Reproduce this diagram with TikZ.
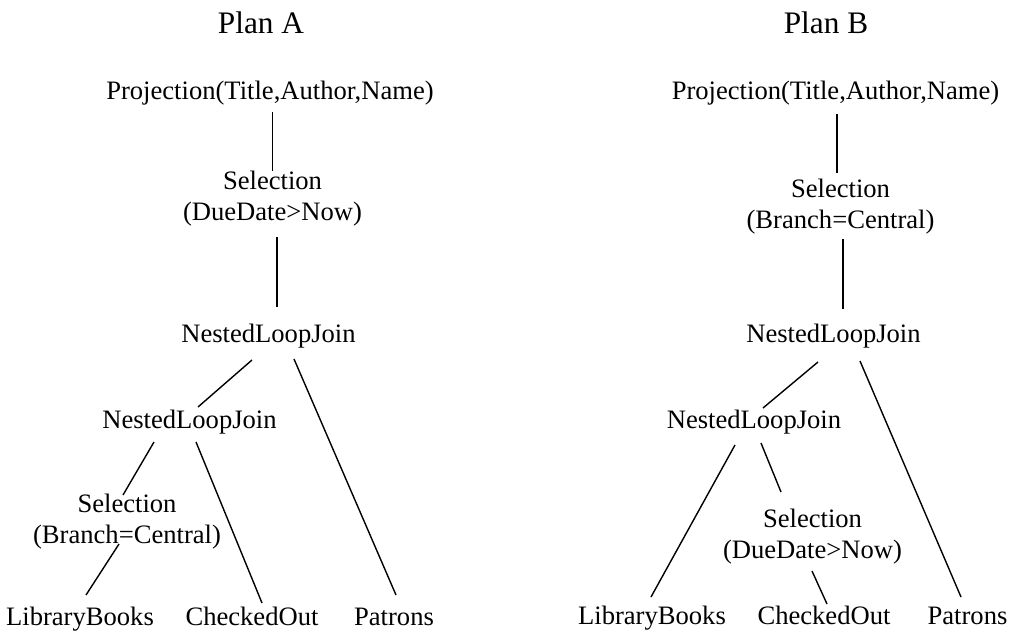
\documentclass[tikz,border=0pt]{standalone}
\usepackage{fontspec}
\setmainfont{Liberation Serif}
\begin{document}
\begin{tikzpicture}[x=1pt,y=-1pt,
  lbl/.style={inner sep=0pt,anchor=base,align=center,font=\fontsize{26.6}{30.5}\selectfont},
  ttl/.style={inner sep=0pt,anchor=base,font=\fontsize{31.3}{37}\selectfont},
  edge/.style={line width=1.4pt,black}]
\useasboundingbox[fill=white] (0,0) rectangle (1010,632);
% Plan A
\node[ttl] (titleA) at (261,33) {Plan A};
\node[lbl] (projA) at (270,99) {Projection(Title,Author,Name)};
\node[lbl] (selA) at (272.5,220) {Selection\\(DueDate>Now)};
\node[lbl] (nljA1) at (268.5,342) {NestedLoopJoin};
\node[lbl] (nljA2) at (189.5,428) {NestedLoopJoin};
\node[lbl] (selA2) at (127,543) {Selection\\(Branch=Central)};
\node[lbl] (lbA) at (80,625) {LibraryBooks};
\node[lbl] (coA) at (252,625) {CheckedOut};
\node[lbl] (paA) at (394,625) {Patrons};
\draw[edge] ([shift={(2.7,13)}]projA.base) -- ([shift={(0.2,-49)}]selA.base);
\draw[edge] ([shift={(4.5,17)}]selA.base) -- ([shift={(8.5,-35)}]nljA1.base);
\draw[edge] ([shift={(-16.5,18)}]nljA1.base) -- ([shift={(8.5,-21)}]nljA2.base);
\draw[edge] ([shift={(25.5,17)}]nljA1.base) -- ([shift={(2,-30)}]paA.base);
\draw[edge] ([shift={(-35.5,14)}]nljA2.base) -- ([shift={(-4,-48)}]selA2.base);
\draw[edge] ([shift={(6.5,14)}]nljA2.base) -- ([shift={(10,-22)}]coA.base);
\draw[edge] ([shift={(-8,1)}]selA2.base) -- ([shift={(6,-30)}]lbA.base);
% Plan B
\node[ttl] (titleB) at (826,33) {Plan B};
\node[lbl] (projB) at (835.5,99) {Projection(Title,Author,Name)};
\node[lbl] (selB) at (840.5,228) {Selection\\(Branch=Central)};
\node[lbl] (nljB1) at (833.5,342) {NestedLoopJoin};
\node[lbl] (nljB2) at (754,428) {NestedLoopJoin};
\node[lbl] (selB2) at (812.5,558) {Selection\\(DueDate>Now)};
\node[lbl] (lbB) at (652,624) {LibraryBooks};
\node[lbl] (coB) at (824,624) {CheckedOut};
\node[lbl] (paB) at (967.5,624) {Patrons};
\draw[edge] ([shift={(1.5,15)}]projB.base) -- ([shift={(-3.5,-55)}]selB.base);
\draw[edge] ([shift={(2.5,11)}]selB.base) -- ([shift={(9.5,-33)}]nljB1.base);
\draw[edge] ([shift={(-15.5,20)}]nljB1.base) -- ([shift={(9,-20)}]nljB2.base);
\draw[edge] ([shift={(26.5,19)}]nljB1.base) -- ([shift={(-6.5,-27)}]paB.base);
\draw[edge] ([shift={(-19,17)}]nljB2.base) -- ([shift={(-1,-27)}]lbB.base);
\draw[edge] ([shift={(7,15)}]nljB2.base) -- ([shift={(-31.5,-66)}]selB2.base);
\draw[edge] ([shift={(-0.5,13)}]selB2.base) -- ([shift={(3,-20)}]coB.base);
\end{tikzpicture}
\end{document}
